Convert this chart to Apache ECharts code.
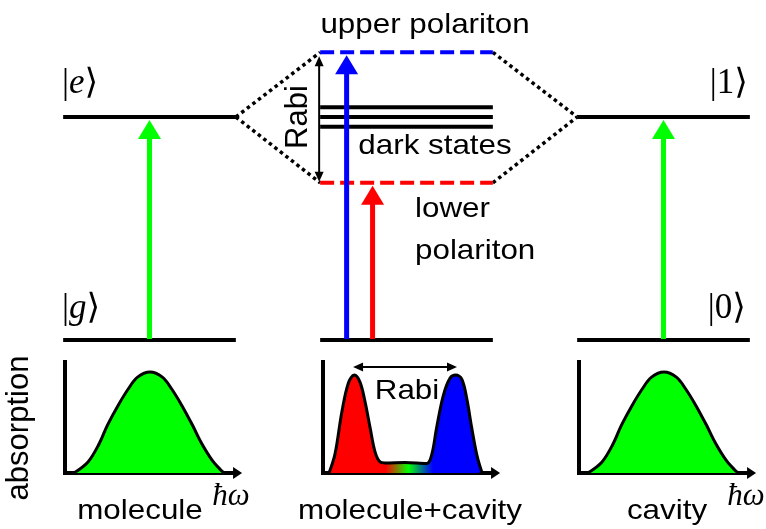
<!DOCTYPE html>
<html><head><meta charset="utf-8">
<script src="https://cdn.jsdelivr.net/npm/echarts@6/dist/echarts.min.js"></script>
<style>html,body{margin:0;padding:0;background:#fff}#c{width:766px;height:529px}</style>
</head><body><div id="c"></div>
<script>
// ================= DATA =================
const columns = ['molecule', 'molecule+cavity', 'cavity'];
const levelHalfWidth = 0.336;               // half length of a level line (column units)
// bare levels: [column, energy]
const bareLevels = [[0, 0], [0, 1], [1, 0], [2, 0], [2, 1]];
const darkStateEnergies = [1.044, 1.0, 0.956];
const upperPolaritonE = 1.29;
const lowerPolaritonE = 0.705;
const polaritonEnergies = [upperPolaritonE, lowerPolaritonE];
// light-matter coupling (dotted): [fromColumn, fromEnergy, toColumn, toEnergy]
const couplings = [[0, 1, 1, upperPolaritonE], [0, 1, 1, lowerPolaritonE],
                   [1, upperPolaritonE, 2, 1], [1, lowerPolaritonE, 2, 1]];
// optical transitions: [column, offset within column, fromEnergy, toEnergy]
const transitions = [[0, 0, 0, 1], [1, -0.233, 0, upperPolaritonE],
                     [1, -0.132, 0, lowerPolaritonE], [2, 0, 0, 1]];
// Rabi splitting marker: [column, lowerEnergy, upperEnergy]
const rabiMarker = [[1, lowerPolaritonE, upperPolaritonE]];

// absorption spectra: [hbar*omega, absorption]
const moleculeSpectrum = [[0.5,0],[1.3,0.11],[1.9,0.28],[2.4,0.475],[3.0,0.67],[3.6,0.84],[4.1,0.95],
  [4.8,1.0],[5.5,0.95],[6.0,0.84],[6.6,0.67],[7.2,0.475],[7.7,0.30],[8.3,0.13],[8.8,0.03],[9.0,0]];
const cavitySpectrum = [[0.5,0],[1.3,0.11],[1.9,0.28],[2.4,0.475],[3.0,0.67],[3.6,0.84],[4.1,0.95],
  [4.8,1.0],[5.5,0.95],[6.0,0.84],[6.6,0.67],[7.2,0.475],[7.7,0.30],[8.3,0.13],[8.8,0.03],[9.0,0]];
const hybridSpectrum = [[0.34,0],[0.68,0.19],[1.06,0.6],[1.43,0.89],[1.77,0.97],[2.09,0.9],[2.37,0.71],
  [2.66,0.45],[2.94,0.21],[3.22,0.11],[3.5,0.1],[4.63,0.105],[5.86,0.095],[6.14,0.18],[6.42,0.45],
  [6.8,0.77],[7.18,0.94],[7.5,0.97],[7.84,0.93],[8.12,0.74],[8.4,0.45],[8.69,0.18],[8.97,0.01]];
// Rabi splitting in spectrum: [fromOmega, toOmega, height]
const spectrumRabi = [[1.7, 7.57, 1.05]];

const texts = {
  upper: 'upper polariton', dark: 'dark states', lower1: 'lower', lower2: 'polariton',
  rabi: 'Rabi', yName: 'absorption', xName: 'ħω'
};

// ================= STYLE / LAYOUT =================
const GREEN = '#00ff00', BLUE = '#0000ff', RED = '#ff0000';
const transitionColors = [GREEN, BLUE, RED, GREEN];
const polaritonColors = [BLUE, RED];
const X0 = 149.5, XU = 257, Y0 = 340, YU = 223;
const xMin = -0.55, xMax = 2.35, yMin = -0.2, yMax = 1.5;
const panelLeft = [65, 323, 579], panelTop = 362, panelH = 111, PXU = 17.7, pxMax = 9.75, pyMax = 1.1;
const SANS = '"Liberation Sans", Arial, sans-serif';
const SERIF = '"Liberation Serif", "DejaVu Serif", "DejaVu Sans", serif';

const chart = echarts.init(document.getElementById('c'), null, {renderer: 'canvas'});

const grids = [{left: X0 + xMin * XU, width: (xMax - xMin) * XU, top: Y0 - yMax * YU, height: (yMax - yMin) * YU}];
const xAxes = [{type: 'value', gridIndex: 0, min: xMin, max: xMax, show: false}];
const yAxes = [{type: 'value', gridIndex: 0, min: yMin, max: yMax, show: false}];
panelLeft.forEach((l, i) => {
  grids.push({left: l, top: panelTop, width: pxMax * PXU, height: panelH});
  xAxes.push({type: 'value', gridIndex: i + 1, min: 0, max: pxMax,
    axisLine: {show: true, onZero: false, symbol: ['none', 'triangle'], symbolSize: [12, 9],
      lineStyle: {color: '#000', width: 4}},
    axisTick: {show: false}, axisLabel: {show: false}, splitLine: {show: false}});
  yAxes.push({type: 'value', gridIndex: i + 1, min: 0, max: pyMax,
    axisLine: {show: true, lineStyle: {color: '#000', width: 4, cap: 'square'}},
    axisTick: {show: false}, axisLabel: {show: false}, splitLine: {show: false}});
});

function lineEl(p1, p2, style) {
  return {type: 'line', shape: {x1: p1[0], y1: p1[1], x2: p2[0], y2: p2[1]}, style: style};
}
function headEl(x, y, dir, w, l, color) { // tip at (x, y)
  let pts;
  if (dir === 'up') pts = [[x, y], [x - w / 2, y + l], [x + w / 2, y + l]];
  else if (dir === 'down') pts = [[x, y], [x - w / 2, y - l], [x + w / 2, y - l]];
  else if (dir === 'left') pts = [[x, y], [x + l, y - w / 2], [x + l, y + w / 2]];
  else pts = [[x, y], [x - l, y - w / 2], [x - l, y + w / 2]];
  return {type: 'polygon', shape: {points: pts}, style: {fill: color}};
}

const series = [
  // dotted coupling lines
  {type: 'custom', xAxisIndex: 0, yAxisIndex: 0, clip: false, silent: true, z: 2, data: couplings,
    renderItem(p, api) {
      const a = api.coord([api.value(0) + levelHalfWidth, api.value(1)]);
      const b = api.coord([api.value(2) - levelHalfWidth, api.value(3)]);
      return lineEl(a, b, {stroke: '#000', lineWidth: 3.5, lineDash: [3.5, 3.5]});
    }},
  // bare levels
  {type: 'custom', xAxisIndex: 0, yAxisIndex: 0, clip: false, silent: true, z: 3, data: bareLevels,
    renderItem(p, api) {
      const a = api.coord([api.value(0) - levelHalfWidth, api.value(1)]);
      const b = api.coord([api.value(0) + levelHalfWidth, api.value(1)]);
      return lineEl(a, b, {stroke: '#000', lineWidth: 4});
    }},
  // dark states
  {type: 'custom', xAxisIndex: 0, yAxisIndex: 0, clip: false, silent: true, z: 3,
    data: darkStateEnergies.map(e => [1, e]),
    renderItem(p, api) {
      const a = api.coord([api.value(0) - levelHalfWidth, api.value(1)]);
      const b = api.coord([api.value(0) + levelHalfWidth, api.value(1)]);
      return lineEl(a, b, {stroke: '#000', lineWidth: 4});
    }},
  // polaritons (dashed)
  {type: 'custom', xAxisIndex: 0, yAxisIndex: 0, clip: false, silent: true, z: 3,
    data: polaritonEnergies.map(e => [1, e]),
    renderItem(p, api) {
      const a = api.coord([api.value(0) - levelHalfWidth, api.value(1)]);
      const b = api.coord([api.value(0) + levelHalfWidth, api.value(1)]);
      return lineEl(a, b, {stroke: polaritonColors[p.dataIndex], lineWidth: 4, lineDash: [14, 6]});
    }},
  // transitions (arrows)
  {type: 'custom', xAxisIndex: 0, yAxisIndex: 0, clip: false, silent: true, z: 4, data: transitions,
    renderItem(p, api) {
      const x = api.value(0) + api.value(1);
      const base = api.coord([x, api.value(2)]);
      const tip = api.coord([x, api.value(3)]);
      const col = transitionColors[p.dataIndex];
      const ty = tip[1] + 3, hl = 19, hw = 23;
      return {type: 'group', children: [
        {type: 'rect', shape: {x: base[0] - 2.5, y: ty + hl - 1, width: 5, height: base[1] - 1 - (ty + hl - 1)}, style: {fill: col}},
        headEl(base[0], ty, 'up', hw, hl, col)
      ]};
    }},
  // Rabi marker (vertical double arrow)
  {type: 'custom', xAxisIndex: 0, yAxisIndex: 0, clip: false, silent: true, z: 5, data: rabiMarker,
    renderItem(p, api) {
      const lo = api.coord([api.value(0) - levelHalfWidth, api.value(1)]);
      const up = api.coord([api.value(0) - levelHalfWidth, api.value(2)]);
      const x = lo[0] - 1, yt = up[1] + 4, yb = lo[1] - 1;
      return {type: 'group', children: [
        lineEl([x, yt + 8], [x, yb - 8], {stroke: '#000', lineWidth: 2}),
        headEl(x, yt, 'up', 9, 10, '#000'),
        headEl(x, yb, 'down', 9, 10, '#000')
      ]};
    }},
  // spectra
  {type: 'line', xAxisIndex: 1, yAxisIndex: 1, data: moleculeSpectrum, smooth: 0.35, symbol: 'none', silent: true,
    lineStyle: {color: '#000', width: 3}, itemStyle: {color: '#000'}, areaStyle: {color: GREEN, opacity: 1}},
  {type: 'line', xAxisIndex: 2, yAxisIndex: 2, data: hybridSpectrum, smooth: 0.35, symbol: 'none', silent: true,
    lineStyle: {color: '#000', width: 3}, itemStyle: {color: '#000'},
    areaStyle: {opacity: 1, color: new echarts.graphic.LinearGradient(0, 0, 1, 0, [
      {offset: 0, color: RED}, {offset: 0.37, color: RED}, {offset: 0.52, color: GREEN},
      {offset: 0.68, color: BLUE}, {offset: 1, color: BLUE}])}},
  {type: 'line', xAxisIndex: 3, yAxisIndex: 3, data: cavitySpectrum, smooth: 0.35, symbol: 'none', silent: true,
    lineStyle: {color: '#000', width: 3}, itemStyle: {color: '#000'}, areaStyle: {color: GREEN, opacity: 1}},
  // Rabi marker in spectrum (horizontal double arrow)
  {type: 'custom', xAxisIndex: 2, yAxisIndex: 2, clip: false, silent: true, z: 5, data: spectrumRabi,
    renderItem(p, api) {
      const a = api.coord([api.value(0), api.value(2)]);
      const b = api.coord([api.value(1), api.value(2)]);
      return {type: 'group', children: [
        lineEl([a[0] + 8, a[1]], [b[0] - 8, b[1]], {stroke: '#000', lineWidth: 2}),
        headEl(a[0], a[1], 'left', 9, 10, '#000'),
        headEl(b[0], b[1], 'right', 9, 10, '#000')
      ]};
    }}
];

function txt(text, x, y, opts) {
  opts = opts || {};
  return {type: 'text', x: x, y: y, rotation: opts.rot || 0, scaleX: opts.sx || 1, scaleY: opts.sy || 1, silent: true, z: 100,
    style: {text: text, fill: '#000', font: opts.font || ('28px ' + SANS),
      align: opts.align || 'center', verticalAlign: 'middle', textAlign: opts.align || 'center', textVerticalAlign: 'middle',
      rich: opts.rich}};
}
const ketRich = {n: {font: '35px ' + SERIF, fill: '#000'}, i: {font: 'italic 35px ' + SERIF, fill: '#000'}};
const SX = 1.12;
const graphicEls = [
  txt(texts.upper, 425, 25, {sx: SX}),
  txt(texts.dark, 435, 146, {sx: SX}),
  txt(texts.lower1, 415, 209, {sx: SX, align: 'left'}),
  txt(texts.lower2, 415, 251, {sx: SX, align: 'left'}),
  txt(texts.rabi, 298, 117, {rot: Math.PI / 2, font: '31px ' + SANS}),
  txt(texts.rabi, 407, 391, {sx: SX}),
  txt(texts.yName, 19, 428, {rot: Math.PI / 2, font: '31px ' + SANS}),
  txt(columns[0], 140, 511, {sx: SX}),
  txt(columns[1], 410, 511, {sx: SX}),
  txt(columns[2], 667, 511, {sx: SX}),
  txt(texts.xName, 231, 497, {font: 'italic 31px ' + SERIF}),
  txt(texts.xName, 746, 497, {font: 'italic 31px ' + SERIF}),
  txt('{n||}{i|e}{n|⟩}', 62, 84, {align: 'left', rich: ketRich}),
  txt('{n||}{i|g}{n|⟩}', 62, 309, {align: 'left', rich: ketRich}),
  txt('{n||1⟩}', 748, 84, {align: 'right', rich: ketRich}),
  txt('{n||0⟩}', 746, 309, {align: 'right', rich: ketRich})
];

chart.setOption({
  animation: false,
  backgroundColor: '#ffffff',
  grid: grids, xAxis: xAxes, yAxis: yAxes,
  series: series,
  graphic: {elements: graphicEls}
});
</script></body></html>
